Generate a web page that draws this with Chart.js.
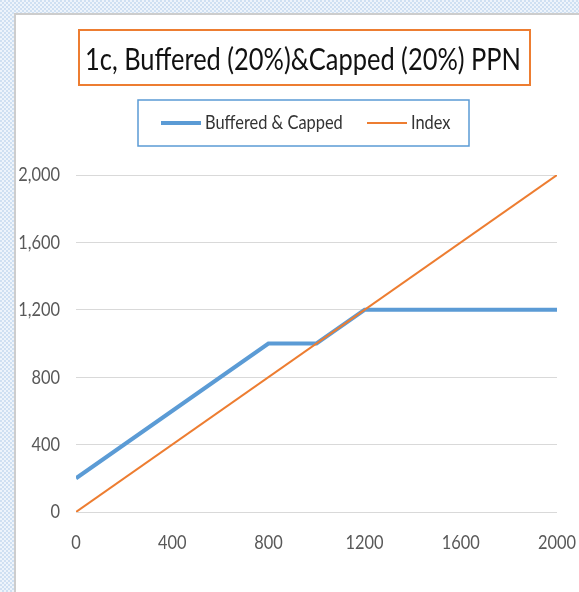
<!DOCTYPE html>
<html>
<head>
<meta charset="utf-8">
<script src="https://cdn.jsdelivr.net/npm/chart.js@4/dist/chart.umd.min.js"></script>
<style>
  html, body { margin: 0; padding: 0; width: 579px; height: 592px; overflow: hidden; }
  body {
    background-color: #dbe8f6;
    background-image: conic-gradient(#eef4fb 25%, #cfe0f2 0 50%, #eef4fb 0 75%, #cfe0f2 0);
    background-size: 4px 4px;
  }
  #panel {
    position: absolute; left: 14px; top: 13px; right: 0; bottom: 0;
    background: #fff;
    border-left: 2px solid #cdcdcd; border-top: 2px solid #cdcdcd;
  }
  #chart { position: absolute; left: 0; top: 0; }
</style>
</head>
<body>
<div id="panel"></div>
<canvas id="chart" width="579" height="592"></canvas>
<script>
// Payoff of the note versus the underlying index
const chartTitle = '1c, Buffered (20%)&Capped (20%) PPN';
const seriesNames = ['Buffered & Capped', 'Index'];

const bufferedX = [0, 800, 1000, 1200, 2000];
const bufferedY = [200, 1000, 1000, 1200, 1200];

const indexX = [0, 2000];
const indexY = [0, 2000];

const xTickValues = [0, 400, 800, 1200, 1600, 2000];
const yTickValues = [0, 400, 800, 1200, 1600, 2000];

const BLUE = '#5B9BD5';
const ORANGE = '#ED7D31';
const FONT = 'Lato, "Open Sans", sans-serif';
const CONDENSE = 0.82;   // horizontal squeeze applied to all chart text

const toPoints = (xs, ys) => xs.map((x, i) => ({ x, y: ys[i] }));

// Draw every label with a narrow set width
const condensedText = {
  id: 'condensedText',
  beforeDraw(chart) {
    const ctx = chart.ctx;
    if (ctx._plainFillText) return;
    ctx._plainFillText = ctx.fillText;
    ctx.fillText = function (text, x, y, maxWidth) {
      const w = this.measureText(text).width * CONDENSE;
      const mw = maxWidth === undefined ? w : Math.min(maxWidth, w);
      return this._plainFillText(text, x, y, mw);
    };
  }
};

// Boxed title and boxed legend drawn above the plot
const headerPlugin = {
  id: 'headerBoxes',
  afterDraw(chart) {
    const ctx = chart.ctx;
    ctx.save();

    // title
    ctx.strokeStyle = ORANGE;
    ctx.lineWidth = 2;
    ctx.strokeRect(79, 30, 451, 55);
    ctx.fillStyle = '#111';
    ctx.font = '31px ' + FONT;
    ctx.textAlign = 'center';
    ctx.textBaseline = 'alphabetic';
    ctx.fillText(chartTitle, 303, 70, 436);

    // legend
    ctx.strokeStyle = BLUE;
    ctx.lineWidth = 1.5;
    ctx.strokeRect(138, 100, 331, 46);
    ctx.font = '20px ' + FONT;
    ctx.textAlign = 'left';
    ctx.textBaseline = 'middle';
    const starts = [161, 367];
    chart.data.datasets.forEach((ds, i) => {
      const x0 = starts[i];
      ctx.strokeStyle = ds.borderColor;
      ctx.lineWidth = ds.borderWidth;
      ctx.beginPath();
      ctx.moveTo(x0, 123);
      ctx.lineTo(x0 + 40, 123);
      ctx.stroke();
      ctx.fillStyle = '#333';
      ctx.fillText(ds.label, x0 + 44, 123);
    });
    ctx.restore();
  }
};

new Chart(document.getElementById('chart'), {
  type: 'line',
  data: {
    datasets: [
      {
        label: seriesNames[0],
        data: toPoints(bufferedX, bufferedY),
        borderColor: BLUE,
        backgroundColor: BLUE,
        borderWidth: 4,
        pointRadius: 0,
        tension: 0,
        order: 1
      },
      {
        label: seriesNames[1],
        data: toPoints(indexX, indexY),
        borderColor: ORANGE,
        backgroundColor: ORANGE,
        borderWidth: 2,
        pointRadius: 0,
        tension: 0,
        order: 0
      }
    ]
  },
  options: {
    responsive: false,
    animation: false,
    layout: { padding: { left: 0, right: 22, top: 175, bottom: 0 } },
    plugins: {
      legend: { display: false },
      title: { display: false },
      tooltip: { enabled: false }
    },
    scales: {
      x: {
        type: 'linear',
        min: xTickValues[0],
        max: xTickValues[xTickValues.length - 1],
        afterBuildTicks: (scale) => { scale.ticks = xTickValues.map(v => ({ value: v })); },
        afterFit: (scale) => {
          scale.height = 80;
          scale.paddingLeft = 0;
          scale.paddingRight = 0;
        },
        grid: { display: false, drawTicks: false },
        border: { display: false },
        ticks: {
          padding: 19,
          color: '#595959',
          font: { family: FONT, size: 20 },
          maxRotation: 0,
          callback: (v) => String(v)
        }
      },
      y: {
        type: 'linear',
        min: yTickValues[0],
        max: yTickValues[yTickValues.length - 1],
        afterBuildTicks: (scale) => { scale.ticks = yTickValues.map(v => ({ value: v })); },
        afterFit: (scale) => {
          scale.width = 76;
          scale.paddingTop = 0;
          scale.paddingBottom = 0;
        },
        grid: { color: '#d9d9d9', lineWidth: 1, drawTicks: false },
        border: { display: false },
        ticks: {
          padding: 16,
          color: '#595959',
          font: { family: FONT, size: 20 },
          callback: (v) => v.toLocaleString('en-US')
        }
      }
    }
  },
  plugins: [condensedText, headerPlugin]
});
</script>
</body>
</html>
